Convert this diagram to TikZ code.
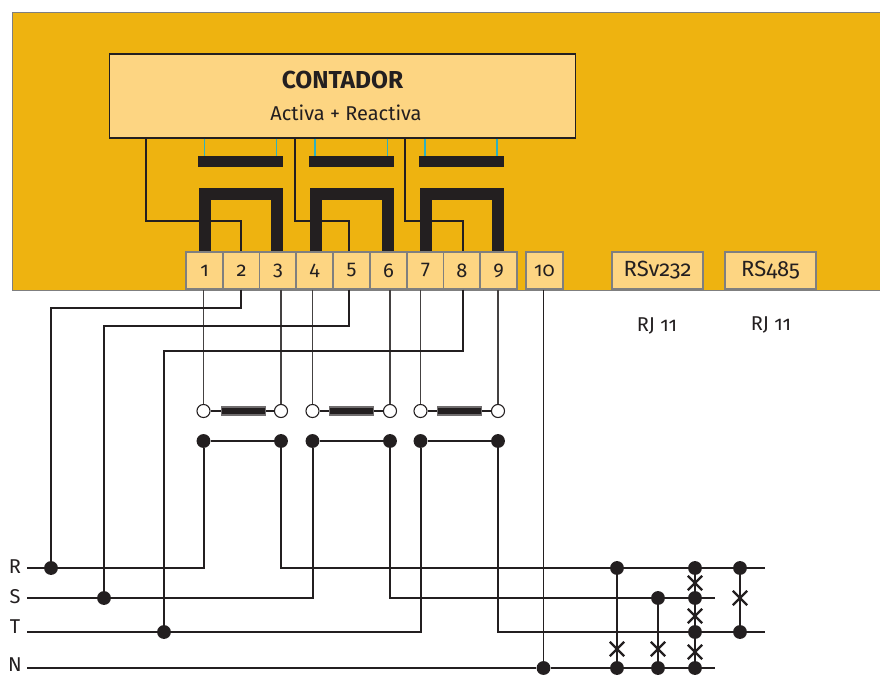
\documentclass[tikz,border=0pt]{standalone}
\usepackage{fontspec}
\setmainfont[Numbers=OldStyle]{Fira Sans}
\definecolor{bgor}{HTML}{EEB310}
\definecolor{pale}{HTML}{FDD582}
\definecolor{ink}{HTML}{231F20}
\definecolor{cyanw}{HTML}{2FB0C0}
\definecolor{edge}{HTML}{7F7F7F}
\tikzset{
  px/.style={x=0.75pt,y=-0.75pt},
  term/.style={draw=edge,line width=0.8pt,fill=pale,inner sep=0pt,minimum height=27.75pt,text=ink,font=\fontsize{15pt}{17pt}\selectfont},
  tn/.style={term,minimum width=27.75pt},
  tw/.style={term,minimum width=68.25pt,font=\fontsize{16.5pt}{18pt}\selectfont},
  wire/.style={draw=ink,line width=1.5pt},
  thin wire/.style={draw=ink!85,line width=1pt},
  heavy/.style={draw=ink,line width=9pt,line join=miter},
  tap/.style={draw=cyanw,line width=0.8pt},
  bar/.style={fill=ink,draw=none,inner sep=0pt,minimum width=64pt,minimum height=8.4pt},
  fuse/.style={fill=ink,draw=ink!65,line width=0.8pt,inner sep=0pt,minimum width=33.5pt,minimum height=6pt},
  dot/.style={circle,fill=ink,draw=none,inner sep=0pt,minimum size=10.4pt},
  open/.style={circle,fill=white,draw=ink,line width=0.8pt,inner sep=0pt,minimum size=9.8pt},
  lab/.style={text=ink,inner sep=0pt,font=\fontsize{15pt}{17pt}\selectfont},
}
\newcommand{\swcross}[1]{\draw[wire,line width=1.7pt] ([shift={(-5.4pt,-5.4pt)}]#1) -- ([shift={(5.4pt,5.4pt)}]#1) ([shift={(-5.4pt,5.4pt)}]#1) -- ([shift={(5.4pt,-5.4pt)}]#1);}
\begin{document}
\begin{tikzpicture}[px]
\useasboundingbox (0,0) rectangle (880,675);
% housing
\fill[bgor] (12,12) rectangle (880,290);
\draw[edge,line width=0.6pt] (880,12) -- (12,12) -- (12,290) -- (880,290);
% meter
\node (meter) [draw=ink,line width=0.8pt,fill=pale,minimum width=349.5pt,minimum height=63pt,inner sep=0pt] at (342.3,96) {};
\node (title) [text=ink,inner sep=0pt,font=\bfseries\fontsize{18.4pt}{20pt}\selectfont] at (342.5,80) {CONTADOR};
\node (sub) [lab,font=\fontsize{15pt}{17pt}\selectfont] at (346,113) {Activa + Reactiva};
% terminals
\foreach \n/\x in {1/204.5,2/241.5,3/278,4/314.5,5/351.5,6/388.5,7/425.5,8/462,9/498.5,10/544.5}
  \node (t\n) [tn] at (\x,270.5) {\n};
\node (rsa) [tw] at (657.5,270.5) {RSv232};
\node (rsb) [tw] at (770.5,270.5) {RS485};
\node (rja) [lab] at (657,326) {RJ 11};
\node (rjb) [lab] at (771,325) {RJ 11};
% current-transformer bars and taps
\foreach \i/\a/\b/\c in {1/204.5/276.5/240.5,2/315/387.5/351.5,3/425/497/461.5}{
  \node (bar\i) [bar] at (\c,161.5) {};
  \draw[tap] (\a,0 |- meter.south) -- (\a,0 |- bar\i.north);
  \draw[tap] (\b,0 |- meter.south) -- (\b,0 |- bar\i.north);
}
% heavy U shapes
\draw[heavy] (204.5,0 |- t1.north) -- (204.5,193.5) -- (277,193.5) -- (277,0 |- t3.north);
\draw[heavy] (315.5,0 |- t4.north) -- (315.5,193.5) -- (387.5,193.5) -- (387.5,0 |- t6.north);
\draw[heavy] (425.5,0 |- t7.north) -- (425.5,193.5) -- (497.5,193.5) -- (497.5,0 |- t9.north);
% voltage taps inside housing
\draw[wire] (145.5,0 |- meter.south) |- (240.5,221) -- (240.5,0 |- t2.north);
\draw[wire] (294.5,0 |- meter.south) |- (349,221) -- (349,0 |- t5.north);
\draw[wire] (404.5,0 |- meter.south) |- (463,221) -- (463,0 |- t8.north);
% bus lines
\node (lR) [lab] at (15,567) {R};
\node (lS) [lab] at (15,597) {S};
\node (lT) [lab] at (15,627) {T};
\node (lN) [lab] at (15,665) {N};
\coordinate (eR) at (27,568); \coordinate (eS) at (27,598); \coordinate (eT) at (27,632); \coordinate (eN) at (27,668);
% dots on buses
\foreach \n/\x/\y in {r1/51/568,s1/104/598,t1d/164/632,
   r2/617/568,r3/695/568,r4/740/568,s2/658/598,s3/695/598,t2d/695/632,t3d/740/632,
   n1/543.5/668,n2/617/668,n3/658/668,n4/695/668,
   a1/203.5/441,a2/281/441,b1/312.5/441,b2/390/441,c1/420.5/441,c2/498/441}
  \node (\n) [dot] at (\x,\y) {};
% open contacts
\foreach \n/\x in {oa1/203.5,oa2/281,ob1/312.5,ob2/390,oc1/420.5,oc2/498}
  \node (\n) [open] at (\x,411) {};
\node (fa) [fuse] at (243.5,411) {};
\node (fb) [fuse] at (351.5,411) {};
\node (fc) [fuse] at (459.5,411) {};
\foreach \p/\f/\q in {oa1/fa/oa2,ob1/fb/ob2,oc1/fc/oc2}{
  \draw[wire,line width=1pt] (\p) -- (\f) -- (\q);
}
\foreach \p/\q in {a1/a2,b1/b2,c1/c2} \draw[wire] (\p) -- (\q);
% terminals to open contacts
\draw[thin wire] (203.5,0 |- t1.south) -- (oa1);
\draw[thin wire] (281,0 |- t3.south) -- (oa2);
\draw[thin wire] (312.5,0 |- t4.south) -- (ob1);
\draw[thin wire] (390,0 |- t6.south) -- (ob2);
\draw[thin wire] (420.5,0 |- t7.south) -- (oc1);
\draw[thin wire] (498,0 |- t9.south) -- (oc2);
\draw[thin wire,draw=ink] (543.5,0 |- t10.south) -- (n1);
% voltage wires
\draw[wire] (240.5,0 |- t2.south) |- (51,308) -- (r1);
\draw[wire] (349,0 |- t5.south) |- (104,326) -- (s1);
\draw[wire] (463,0 |- t8.south) |- (164,351) -- (t1d);
% buses
\coordinate (eR2) at (765,568); \coordinate (eS2) at (715,598); \coordinate (eT2) at (765,632); \coordinate (eN2) at (715,668);
\draw[wire] (eR) -- (r1) -| (a1);
\draw[wire] (eS) -- (s1) -| (b1);
\draw[wire] (eT) -- (t1d) -| (c1);
\draw[wire] (eN) -- (n1) -- (eN2);
\draw[wire] (a2) |- (r2) -- (eR2);
\draw[wire] (b2) |- (s2) -- (eS2);
\draw[wire] (c2) |- (t2d) -- (eT2);
% capacitor verticals
\draw[wire] (r2) -- (n2);
\draw[wire] (s2) -- (n3);
\draw[wire] (r3) -- (n4);
\draw[wire] (r4) -- (t3d);
\foreach \n/\x/\y in {x1/617/649,x2/658/649,x3/695/652,x4/695/583,x5/695/616,x6/740/598}{
  \coordinate (\n) at (\x,\y);
  \swcross{\n}
}
\end{tikzpicture}
\end{document}
